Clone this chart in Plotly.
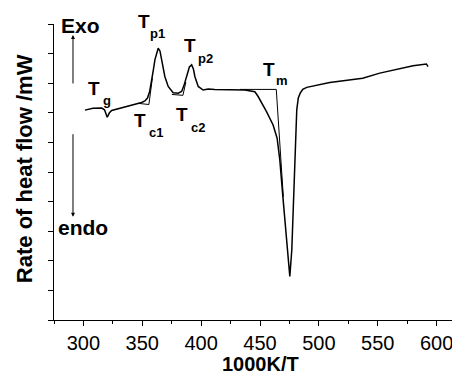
import plotly.graph_objects as go

# DSC curve
x_curve = [301.3, 308.1, 315.5, 317.9, 320.2, 322.1, 324.0, 331.0, 336.7, 343.7,
           349.4, 352.2, 354.4, 356.2, 357.9, 359.4, 360.7, 362.2, 363.5, 365.0,
           366.4, 367.8, 369.2, 372.0, 376.2, 380.5, 383.4, 385.3, 387.6, 390.0,
           391.9, 393.4, 394.7, 397.5, 401.7, 406.0, 411.6, 424.4, 437.1, 445.6,
           448.4, 455.5, 461.1, 464.5, 466.8, 469.4, 472.3, 475.3, 477.0, 478.7,
           480.4, 481.2, 482.5, 484.2, 486.3, 489.7, 509.2, 537.2, 551.7, 580.0,
           591.3, 592.7]
y_curve = [7.09, 7.15, 7.16, 7.10, 6.85, 7.00, 7.08, 7.15, 7.21, 7.28,
           7.35, 7.40, 7.50, 7.71, 8.04, 8.45, 8.79, 9.06, 9.18, 9.09,
           8.79, 8.52, 8.22, 7.89, 7.68, 7.66, 7.72, 7.91, 8.22, 8.55,
           8.62, 8.48, 8.22, 7.89, 7.77, 7.80, 7.79, 7.79, 7.77, 7.71,
           7.55, 7.04, 6.59, 6.14, 5.41, 4.17, 2.82, 1.47, 2.38, 4.40,
           6.09, 7.10, 7.50, 7.67, 7.79, 7.86, 8.02, 8.17, 8.34, 8.59,
           8.65, 8.56]

# tangent construction lines
tc1_x = [346.3, 355.6, 358.6]
tc1_y = [7.32, 7.28, 8.18]
tc2_x = [375.1, 384.5, 387.0]
tc2_y = [7.62, 7.59, 8.04]
tm_x = [432.9, 463.8, 469.8]
tm_y = [7.79, 7.79, 4.16]

# labels: (main text, x, y, subscript, sub x, sub y)
labels = [
    ("T", 302.8, 7.83, "g", 315.5, 7.42),
    ("T", 345.2, 10.08, "p1", 355.6, 9.69),
    ("T", 384.5, 9.27, "p2", 396.4, 8.85),
    ("T", 342.0, 6.75, "c1", 354.8, 6.35),
    ("T", 377.7, 6.95, "c2", 390.4, 6.52),
    ("T", 451.3, 8.47, "m", 462.6, 8.09),
]

x_ticks = [300, 350, 400, 450, 500, 550, 600]
Y_MIN, Y_MAX = 0, 10

FONT = "Liberation Sans, Arial, sans-serif"

fig = go.Figure()
fig.add_trace(go.Scatter(x=x_curve, y=y_curve, mode="lines",
                         line=dict(color="black", width=1.5), showlegend=False))
for tx, ty in [(tc1_x, tc1_y), (tc2_x, tc2_y), (tm_x, tm_y)]:
    fig.add_trace(go.Scatter(x=tx, y=ty, mode="lines",
                             line=dict(color="black", width=1), showlegend=False))


def ydom(v):
    return (v - Y_MIN) / (Y_MAX - Y_MIN)


ann = []
for main, mx, my, sub, sx, sy in labels:
    ann.append(dict(x=mx, y=ydom(my), xref="x", yref="y domain", text=main,
                    showarrow=False, xanchor="left", yanchor="middle", borderpad=0,
                    font=dict(family=FONT, size=19, color="black", weight="bold")))
    ann.append(dict(x=sx, y=ydom(sy), xref="x", yref="y domain", text=sub,
                    showarrow=False, xanchor="left", yanchor="middle", borderpad=0,
                    font=dict(family=FONT, size=13, color="black", weight="bold")))

ann += [
    dict(x=0.0148, y=0.9966, xref="paper", yref="paper", text="Exo", showarrow=False,
         xanchor="left", yanchor="middle", borderpad=0,
         font=dict(family=FONT, size=21, color="black", weight="bold")),
    dict(x=0.0074, y=0.312, xref="paper", yref="paper", text="endo", showarrow=False,
         xanchor="left", yanchor="middle", borderpad=0,
         font=dict(family=FONT, size=21, color="black", weight="bold")),
    dict(x=0.0469, y=0.963, xref="paper", yref="paper", text="", showarrow=True,
         ax=0, ay=50, arrowhead=2, arrowsize=0.8, arrowwidth=1, arrowcolor="black"),
    dict(x=0.0469, y=0.349, xref="paper", yref="paper", text="", showarrow=True,
         ax=0, ay=-84, arrowhead=2, arrowsize=0.8, arrowwidth=1, arrowcolor="black"),
    dict(x=-0.0741, y=0.513, xref="paper", yref="paper", text="Rate of heat flow /mW",
         textangle=-90, showarrow=False, xanchor="center", yanchor="middle",
         font=dict(family=FONT, size=22, color="black", weight="bold")),
    dict(x=0.511, y=-0.148, xref="paper", yref="paper", text="1000K/T",
         showarrow=False, xanchor="center", yanchor="middle",
         font=dict(family=FONT, size=20, color="black", weight="bold")),
]

# the page body has an 8px margin, so the figure is sized/margined to compensate
fig.update_layout(
    width=452, height=368,
    margin=dict(l=46, r=1, t=16, b=56),
    paper_bgcolor="white", plot_bgcolor="white",
    annotations=ann,
    xaxis=dict(range=[275, 619], tickvals=x_ticks, ticks="outside", ticklen=5,
               tickwidth=1, tickcolor="black", showline=True, linecolor="black",
               linewidth=1, showgrid=False, zeroline=False,
               minor=dict(dtick=25, tick0=275, ticks="outside", ticklen=3,
                          tickcolor="black", showgrid=False),
               tickfont=dict(family=FONT, size=20, color="black")),
    yaxis=dict(range=[Y_MIN, Y_MAX], dtick=1, tick0=0, ticks="outside", ticklen=5,
               tickwidth=1, tickcolor="black", showline=True, linecolor="black",
               linewidth=1, showgrid=False, zeroline=False, showticklabels=False),
)

fig.write_html("out.html")
